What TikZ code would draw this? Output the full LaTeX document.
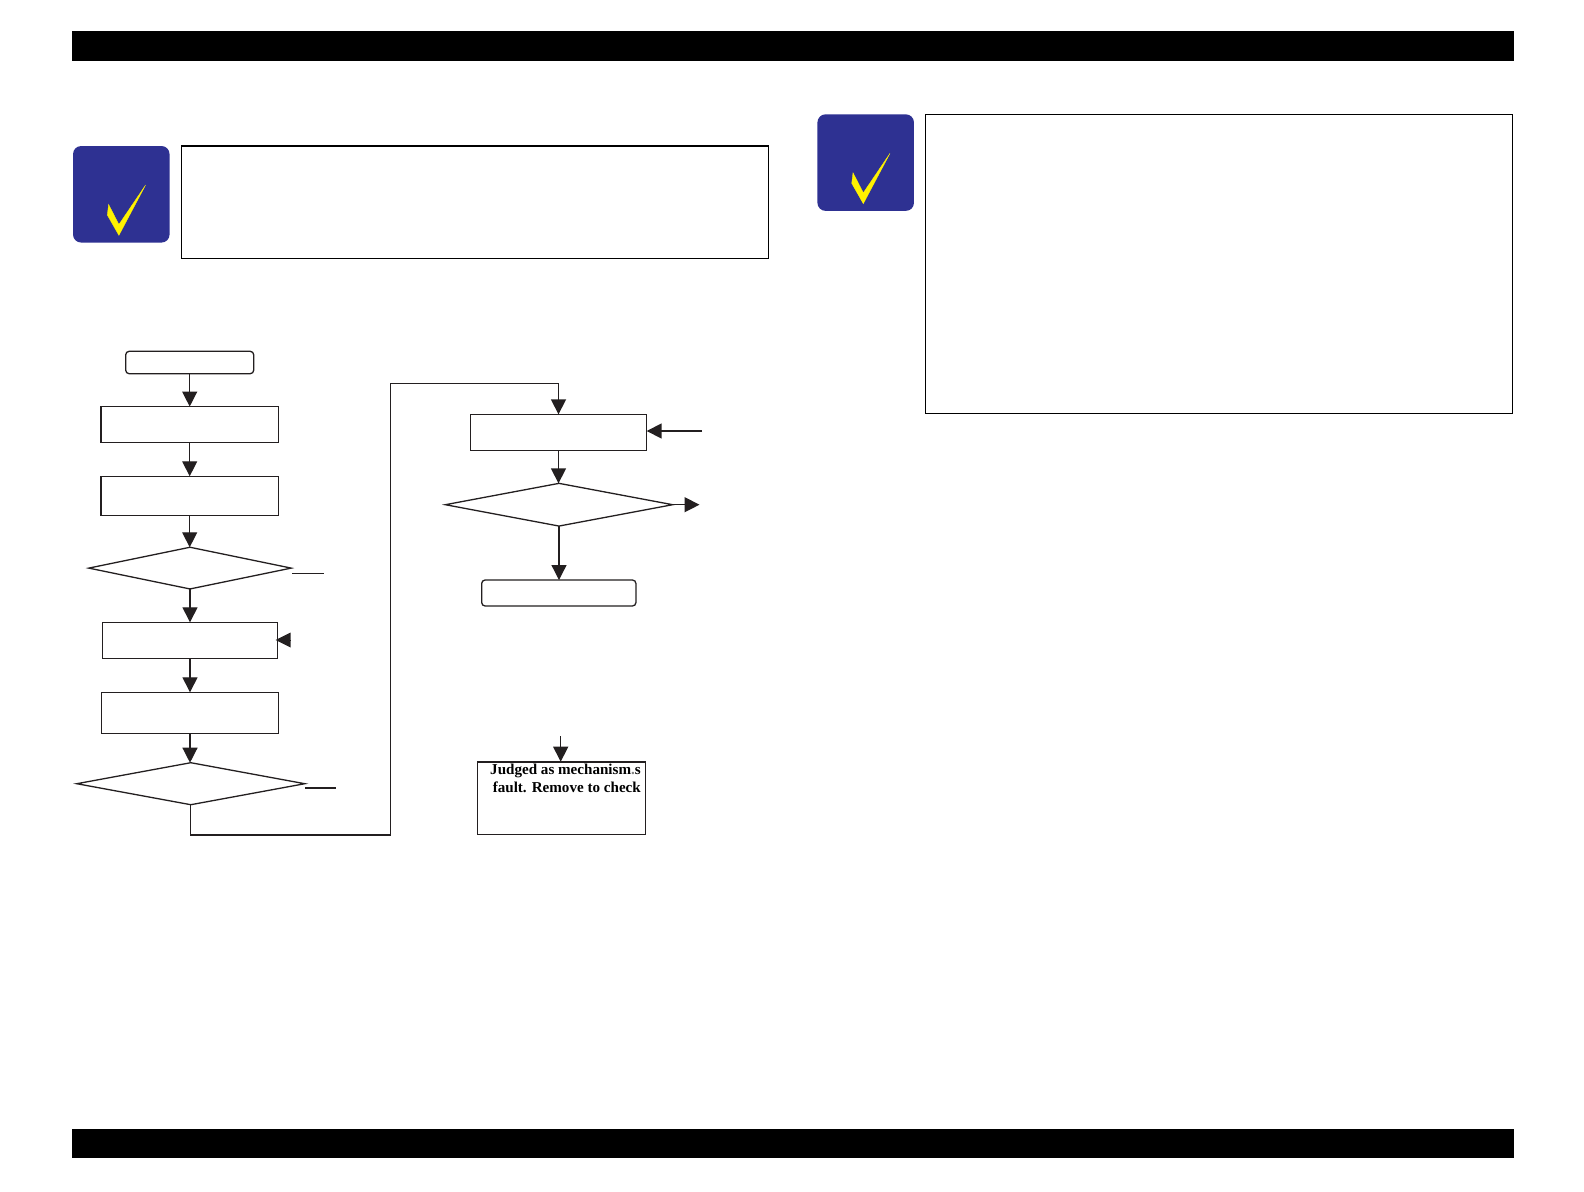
\documentclass[tikz,border=0pt]{standalone}
\usepackage{fontspec}
\setmainfont{Liberation Serif}
\usetikzlibrary{arrows.meta,shapes.geometric}
\definecolor{inkc}{HTML}{231F20}
\definecolor{iconblue}{HTML}{2E3192}
\definecolor{iconyellow}{HTML}{FFF200}
\tikzset{
  x=1pt,y=-1pt,
  boxn/.style={draw=inkc,line width=1.3pt,fill=white,inner sep=0pt,outer sep=0pt},
  roundn/.style={boxn,rounded corners=3.5pt},
  dia/.style={boxn,diamond,aspect=#1},
  notebox/.style={draw=black,line width=1.2pt,fill=white,inner sep=0pt,outer sep=0pt},
  bar/.style={fill=black,draw=none,inner sep=0pt,outer sep=0pt},
  icon/.style={fill=iconblue,draw=none,rounded corners=8pt,inner sep=0pt,outer sep=0pt,minimum width=96.5pt,minimum height=96.5pt},
  conn/.style={draw=inkc,line width=1.3pt},
  arr/.style={conn,-{Triangle[length=15pt,width=15pt,fill=inkc]}},
}
\newcommand{\yellowtick}[2]{\filldraw[iconyellow,line width=0.3pt,shift={(#1,#2)}] (108.6,204.4) -- (107.3,215) -- (118.9,235.4) -- (145.6,185) -- (118.9,224.5) -- cycle;}
\begin{document}
\begin{tikzpicture}
\useasboundingbox (0,0) rectangle (1584,1191);
\fill[white] (0,0) rectangle (1584,1191);
% header and footer bars
\node[bar,minimum width=1441.5pt,minimum height=30.2pt] (topbar) at (792.75,45.8) {};
\node[bar,minimum width=1441.5pt,minimum height=29.8pt] (botbar) at (792.75,1143.4) {};
% note icons and frames
\node[icon] (iconA) at (121.3,194.3) {};
\yellowtick{0}{0}
\node[icon] (iconB) at (865.7,162.6) {};
\yellowtick{744.4}{-31.7}
\node[notebox,minimum width=587.4pt,minimum height=112.3pt] (noteA) at (475,202.2) {};
\node[notebox,minimum width=587pt,minimum height=299pt] (noteB) at (1218.9,263.7) {};
% left column
\node[roundn,minimum width=128pt,minimum height=22.4pt] (start) at (189.7,362.5) {};
\node[boxn,minimum width=177.3pt,minimum height=35.9pt] (b1) at (189.7,424.5) {};
\node[boxn,minimum width=177.3pt,minimum height=38.9pt] (b2) at (189.7,495.7) {};
\node[dia=4.85,minimum width=202.4pt,minimum height=41.7pt] (d1) at (190,568.1) {};
\node[boxn,minimum width=175.4pt,minimum height=36pt] (b3) at (190,640.3) {};
\node[boxn,minimum width=177.4pt,minimum height=41pt] (b4) at (190,712.8) {};
\node[dia=5.43,minimum width=228pt,minimum height=42pt] (d2) at (190.8,783.7) {};
% right column
\node[boxn,minimum width=176.4pt,minimum height=36pt] (b5) at (558.5,432.3) {};
\node[dia=5.33,minimum width=227.3pt,minimum height=42.7pt] (d3) at (559,504.7) {};
\node[roundn,minimum width=154.3pt,minimum height=26pt] (finish) at (558.8,593) {};
\node[boxn,minimum width=168pt,minimum height=73pt] (b6) at (561.3,798.2) {};
\draw[conn,line width=1.8pt] (b6.north west) -- (b6.north east);
\node[font=\bfseries\fontsize{15.1pt}{17.2pt}\selectfont,align=right,inner sep=0pt,anchor=north east] (t6) at (641,764.2) {Judged as mechanism{\color{gray}.}s\\fault. Remove to check};
% connectors
\draw[arr] (start.south) -- (b1.north);
\draw[arr] (b1.south) -- (b2.north);
\draw[arr] (b2.south) -- (b2.south |- d1.north);
\draw[arr] (d1.south -| b3.north) -- (b3.north);
\draw[arr] (b3.south) -- (b3.south |- b4.north);
\draw[arr] (b4.south) -- (b4.south |- d2.north);
\coordinate (loopB) at (390.7,835);
\coordinate (loopC) at (390.7,383.3);
\draw[conn] (d2.south) |- (loopB) -- (loopC) -| (b5.north);
\draw[arr,line width=1.7pt] (b5.north |- loopC) -- (b5.north);
\draw[arr] (b5.south) -- (b5.south |- d3.north);
\draw[arr] (d3.south) -- (d3.south |- finish.north);
\coordinate (exitD3) at (699.5,504.7);
\draw[arr] (d3.east) -- (exitD3);
\coordinate (inB3) at (290,640);
\draw[arr,shorten >=-2pt,line width=0pt] (inB3) -- (b3.east |- inB3);
\coordinate (inB5) at (702,431);
\draw[arr,line width=1.7pt] (inB5) -- (b5.east |- inB5);
\coordinate (stubAa) at (292,573.3);
\coordinate (stubAb) at (324,573.3);
\draw[conn] (stubAa) -- (stubAb);
\coordinate (stubBa) at (305,787.7);
\coordinate (stubBb) at (336,787.7);
\draw[conn,line width=1.7pt] (stubBa) -- (stubBb);
\coordinate (inB6) at (560.7,736);
\draw[arr] (inB6) -- (inB6 |- b6.north);
\end{tikzpicture}
\end{document}
